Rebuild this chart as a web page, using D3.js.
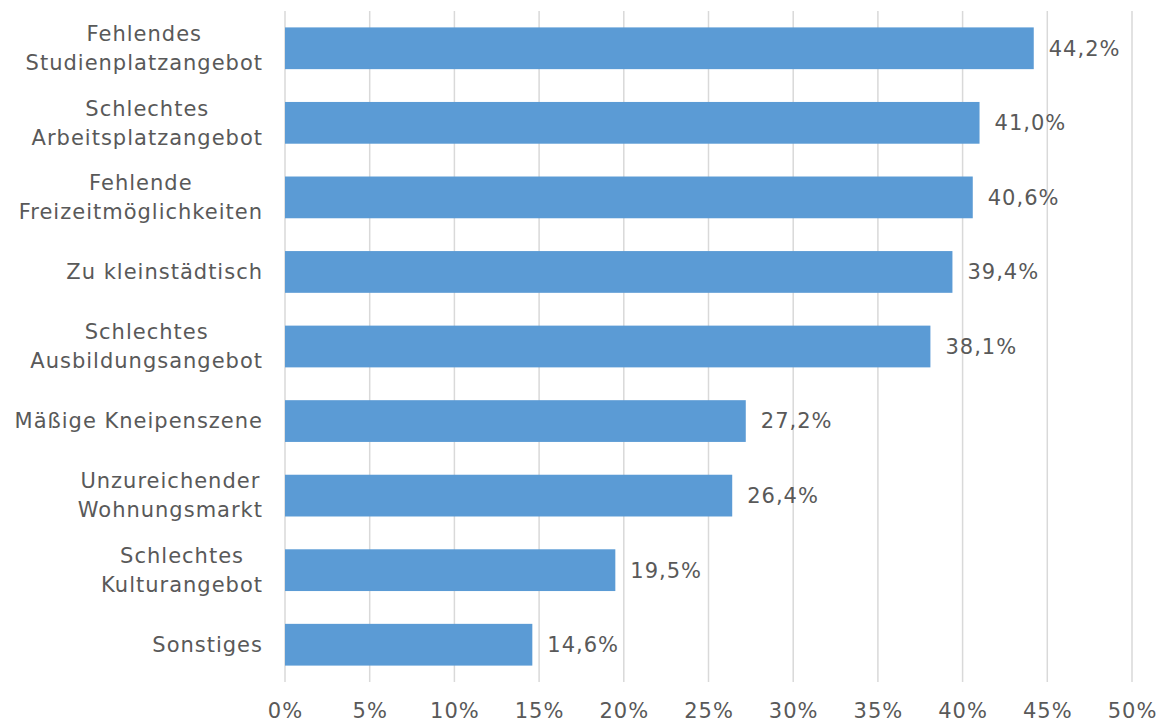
<!DOCTYPE html>
<html>
<head>
<meta charset="utf-8">
<script src="https://cdn.jsdelivr.net/npm/d3@7"></script>
<style>
  html, body { margin: 0; padding: 0; background: #ffffff; }
  svg text { font-family: "DejaVu Sans", sans-serif; fill: #595959; letter-spacing: 1px; }
</style>
</head>
<body>
<svg id="chart" width="1160" height="724"></svg>
<script>
// Reasons given, with share of respondents (%)
const categories = [
  ["Fehlendes", "Studienplatzangebot"],
  ["Schlechtes", "Arbeitsplatzangebot"],
  ["Fehlende", "Freizeitmöglichkeiten"],
  ["Zu kleinstädtisch"],
  ["Schlechtes", "Ausbildungsangebot"],
  ["Mäßige Kneipenszene"],
  ["Unzureichender", "Wohnungsmarkt"],
  ["Schlechtes", "Kulturangebot"],
  ["Sonstiges"]
];
const values = [44.2, 41.0, 40.6, 39.4, 38.1, 27.2, 26.4, 19.5, 14.6];
const tickValues = [0, 5, 10, 15, 20, 25, 30, 35, 40, 45, 50];

const svg = d3.select("#chart");
const margin = { top: 11, left: 285, right: 28, bottom: 42 };
const W = 1160, H = 724;
const fontSize = 21;

const x = d3.scaleLinear().domain([0, 50]).range([margin.left, W - margin.right]);
const y = d3.scaleBand()
  .domain(d3.range(values.length))
  .range([margin.top, H - margin.bottom])
  .paddingInner(0.44)
  .paddingOuter(0.22);

const fmt = v => d3.format(".1f")(v).replace(".", ",") + "%";

// vertical gridlines
svg.append("g")
  .selectAll("line")
  .data(tickValues)
  .join("line")
  .attr("x1", d => x(d)).attr("x2", d => x(d))
  .attr("y1", margin.top).attr("y2", H - margin.bottom)
  .attr("stroke", "#d9d9d9")
  .attr("stroke-width", 1.5);

// x axis tick labels
const xAxis = d3.axisBottom(x).tickValues(tickValues).tickSize(0).tickPadding(0)
  .tickFormat(d => d + "%");
const gx = svg.append("g").attr("transform", `translate(0,${H - margin.bottom})`).call(xAxis);
gx.select(".domain").remove();
gx.selectAll("text")
  .attr("y", 29)
  .attr("dy", "0.35em")
  .attr("font-size", fontSize)
  .style("font-family", "DejaVu Sans, sans-serif")
  .attr("fill", "#595959");

// bars
svg.append("g")
  .selectAll("rect")
  .data(values)
  .join("rect")
  .attr("x", x(0))
  .attr("y", (d, i) => y(i))
  .attr("width", d => x(d) - x(0))
  .attr("height", y.bandwidth())
  .attr("fill", "#5b9bd5");

// value labels
svg.append("g")
  .selectAll("text")
  .data(values)
  .join("text")
  .attr("x", d => x(d) + 15)
  .attr("y", (d, i) => y(i) + y.bandwidth() / 2)
  .attr("dy", "0.35em")
  .attr("font-size", fontSize)
  .text(d => fmt(d));

// category labels: lines centered on each other, block right-aligned
const labelRight = 263;
const lineH = 29;
const catG = svg.append("g");
categories.forEach((lines, i) => {
  const cy = y(i) + y.bandwidth() / 2;
  const g = catG.append("g");
  const texts = lines.map((ln, k) =>
    g.append("text")
      .attr("font-size", fontSize)
      .attr("text-anchor", "middle")
      .attr("y", cy + (k - (lines.length - 1) / 2) * lineH)
      .attr("dy", "0.35em")
      .text(ln)
  );
  const maxW = d3.max(texts, t => t.node().getComputedTextLength());
  texts.forEach(t => t.attr("x", labelRight - maxW / 2));
});
</script>
</body>
</html>
